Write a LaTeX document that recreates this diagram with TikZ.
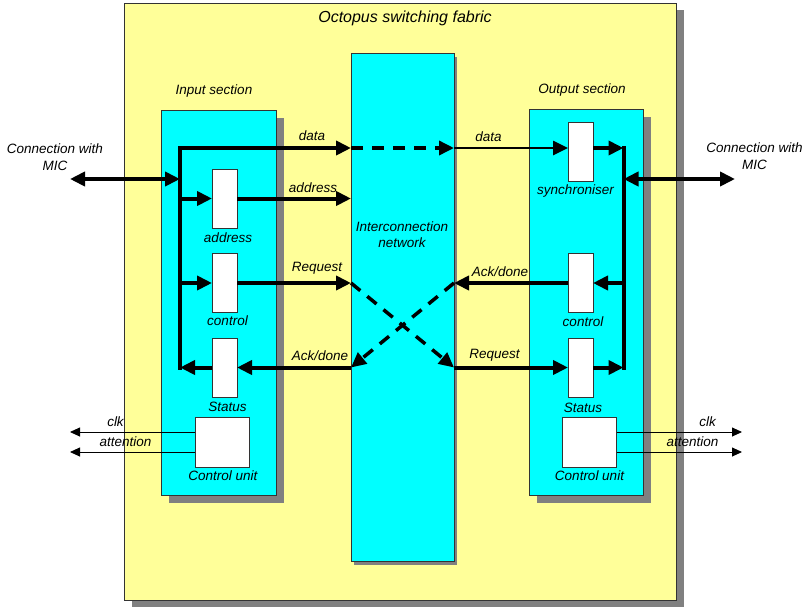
\documentclass[tikz,border=0pt]{standalone}
\usepackage{fontspec}
\setmainfont{Liberation Sans}
\usetikzlibrary{arrows.meta,shadows}
\definecolor{fabricyellow}{HTML}{FFFF99}
\definecolor{netcyan}{HTML}{00FFFF}
\definecolor{shadowgrey}{HTML}{808080}
\tikzset{
  box/.style={draw=black!80,line width=0.8pt,inner sep=0pt,outer sep=0pt},
  fabricbox/.style={box,fill=fabricyellow,
    drop shadow={shadow xshift=8pt,shadow yshift=-7pt,fill=shadowgrey,opacity=1}},
  sectionbox/.style={box,fill=netcyan,
    drop shadow={shadow xshift=8pt,shadow yshift=-8pt,fill=shadowgrey,opacity=1}},
  netbox/.style={box,fill=netcyan,
    drop shadow={shadow xshift=3pt,shadow yshift=-4pt,fill=shadowgrey,opacity=1}},
  reg/.style={box,fill=white,minimum width=25pt,minimum height=59pt},
  unit/.style={box,fill=white,minimum width=54pt,minimum height=50pt},
  txt/.style={font=\fontsize{13.5}{16.5}\selectfont\itshape,inner sep=0pt,align=center},
  titletxt/.style={txt,font=\fontsize{16}{19}\selectfont\itshape},
  bigtip/.tip={Triangle[length=15pt,width=14pt]},
  smalltip/.tip={Triangle[length=10pt,width=9pt]},
  bus/.style={line width=4pt},
  busarrow/.style={bus,-bigtip},
  mic/.style={bus,bigtip-bigtip},
  datarrow/.style={line width=2.6pt,-bigtip},
  dasharrow/.style={line width=3.5pt,dash pattern=on 12pt off 9pt,-bigtip},
  sigarrow/.style={line width=0.9pt,-smalltip},
}
\begin{document}
\begin{tikzpicture}[x=1pt,y=-1pt]
  \useasboundingbox (0,0) rectangle (805,606);
  % boxes
  \node[fabricbox,minimum width=552pt,minimum height=597pt] (fabric) at (400,301.5) {};
  \node[sectionbox,minimum width=115pt,minimum height=385pt] (insec) at (218.5,302.5) {};
  \node[sectionbox,minimum width=114pt,minimum height=386pt] (outsec) at (586,302) {};
  \node[netbox,minimum width=103pt,minimum height=508pt] (net) at (402.5,307) {};
  \node[titletxt] (title) at (405,18) {Octopus switching fabric};
  \node[txt] (intitle) at (214,91) {Input section};
  \node[txt] (outtitle) at (582,90) {Output section};
  \node[txt] (nettitle) at (402,234.5) {Interconnection\\network};

  % registers and control units
  \node[reg] (inaddr) at (224.5,198.5) {};
  \node[reg] (inctrl) at (224.5,283) {};
  \node[reg] (instat) at (224.5,367.5) {};
  \node[unit] (inunit) at (222,442) {};
  \node[reg] (sync) at (580.5,151.5) {};
  \node[reg] (outctrl) at (580.5,283) {};
  \node[reg] (outstat) at (580.5,367.5) {};
  \node[unit] (outunit) at (589.5,442) {};

  \coordinate (inbustop) at (180,148);
  \coordinate (inbusbot) at (180,367.5);
  \coordinate (outbustop) at (623.5,148);
  \coordinate (outbusbot) at (623.5,367.5);
  \coordinate (inmic) at (70,179);
  \coordinate (outmic) at (735,179);
  \coordinate (inclk) at (70,432);
  \coordinate (inattn) at (70,452);
  \coordinate (outclk) at (742,432);
  \coordinate (outattn) at (742,452);

  % input section
  \draw[bus,line cap=rect] (inbustop) -- (inbusbot);
  \draw[busarrow] (inbustop) -- (inbustop -| net.west);
  \draw[mic] (inmic) -- (inmic -| inbustop);
  \draw[busarrow] (inaddr.west -| inbustop) -- (inaddr.west);
  \draw[busarrow] (inaddr.east) -- (inaddr.east -| net.west);
  \draw[busarrow] (inctrl.west -| inbustop) -- (inctrl.west);
  \draw[busarrow] (inctrl.east) -- (inctrl.east -| net.west);
  \draw[busarrow] (instat.east -| net.west) -- (instat.east);
  \draw[busarrow] (instat.west) -- (inbusbot);
  \draw[sigarrow] (inunit.west |- inclk) -- (inclk);
  \draw[sigarrow] (inunit.west |- inattn) -- (inattn);

  % through the network
  \draw[dasharrow] (inbustop -| net.west) -- (inbustop -| net.east);
  \draw[dasharrow] (inctrl.east -| net.west) -- (outstat.west -| net.east);
  \draw[dasharrow] (outctrl.west -| net.east) -- (instat.east -| net.west);

  % output section
  \draw[datarrow] (inbustop -| net.east) -- (sync.west |- inbustop);
  \draw[busarrow] (sync.east |- outbustop) -- (outbustop);
  \draw[bus,line cap=rect] (outbustop) -- (outbusbot);
  \draw[mic] (outmic -| outbustop) -- (outmic);
  \draw[busarrow] (outctrl.east -| outbustop) -- (outctrl.east);
  \draw[busarrow] (outctrl.west) -- (outctrl.west -| net.east);
  \draw[busarrow] (outstat.west -| net.east) -- (outstat.west);
  \draw[busarrow] (outstat.east) -- (outbusbot);
  \draw[sigarrow] (outunit.east |- outclk) -- (outclk);
  \draw[sigarrow] (outunit.east |- outattn) -- (outattn);

  % labels
  \node[txt] (inmiclbl) at (55,157) {Connection with\\MIC};
  \node[txt] (outmiclbl) at (754.5,156) {Connection with\\MIC};
  \node[txt] (indatalbl) at (312,136) {data};
  \node[txt] (inaddrlbl) at (313,187.5) {address};
  \node[txt] (inreqlbl) at (317,268) {Request};
  \node[txt] (inacklbl) at (320,356) {Ack/done};
  \node[txt] (outdatalbl) at (488.5,136.5) {data};
  \node[txt] (outacklbl) at (500,271.5) {Ack/done};
  \node[txt] (outreqlbl) at (494.5,355.5) {Request};
  \node[txt] (inaddrname) at (228,237.5) {address};
  \node[txt] (inctrlname) at (227.5,320.5) {control};
  \node[txt] (instatname) at (227.5,406.5) {Status};
  \node[txt] (inunitname) at (223,476) {Control unit};
  \node[txt] (syncname) at (575.5,191) {synchroniser};
  \node[txt] (outctrlname) at (583,321.5) {control};
  \node[txt] (outstatname) at (583,408) {Status};
  \node[txt] (outunitname) at (589.5,476) {Control unit};
  \node[txt] (inclklbl) at (115.5,421.5) {clk};
  \node[txt] (inattnlbl) at (125.5,441.5) {attention};
  \node[txt] (outclklbl) at (707.5,421.5) {clk};
  \node[txt] (outattnlbl) at (692.5,441.5) {attention};
\end{tikzpicture}
\end{document}
